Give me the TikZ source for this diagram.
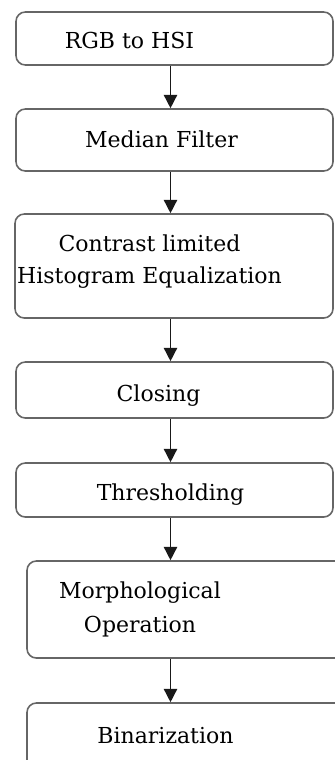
\documentclass[tikz,border=0pt]{standalone}
\usepackage{tikz}
\usepackage{fontspec}
\setmainfont{DejaVu Serif}
\usetikzlibrary{arrows.meta}

\begin{document}
\begin{tikzpicture}
  [x=0.75pt,y=-0.75pt,
   box/.style={draw=black!60,line width=1.2pt,rounded corners=7pt,inner sep=0pt},
   txt/.style={anchor=base,inner sep=0pt,font=\fontsize{16.5}{24}\selectfont},
   txt2/.style={align=center,inner sep=0pt,font=\fontsize{16.5}{24}\selectfont},
   arr/.style={draw=black!90,line width=1.1pt,-{Triangle[length=10pt,width=10pt]}}]
  \useasboundingbox (0,0) rectangle (335,760);

  \node[box,minimum width=237.75pt,minimum height=39.75pt] (rgb) at (174.5,38.5) {};
  \node[box,minimum width=237.75pt,minimum height=46.5pt] (med) at (174.5,140) {};
  \node[box,minimum width=238.5pt,minimum height=78pt] (clahe) at (174,266) {};
  \node[box,minimum width=237.75pt,minimum height=42pt] (clo) at (174.5,390) {};
  \node[box,minimum width=237.75pt,minimum height=40.5pt] (thr) at (174.5,490) {};
  \node[box,minimum width=238.5pt,minimum height=72.75pt] (morph) at (186,609.5) {};
  \node[box,minimum width=238.5pt,minimum height=54pt] (bin) at (186,739) {};

  \node[txt] (trgb) at (129.5,48) {RGB to HSI};
  \node[txt] (tmed) at (161.5,147) {Median Filter};
  \node[txt2] (tclahe) at (149.5,262) {Contrast limited\\Histogram Equalization};
  \node[txt] (tclo) at (158.5,401) {Closing};
  \node[txt] (tthr) at (170.5,500) {Thresholding};
  \node[txt2,font=\fontsize{16.5}{25.5}\selectfont] (tmorph) at (140,609) {Morphological\\Operation};
  \node[txt] (tbin) at (165.5,743) {Binarization};

  \coordinate (ax) at (170.5,0);
  \foreach \from/\to in {rgb/med, med/clahe, clahe/clo, clo/thr, thr/morph, morph/bin}
    \draw[arr] (\from.south -| ax) -- (\to.north -| ax);

\end{tikzpicture}
\end{document}
